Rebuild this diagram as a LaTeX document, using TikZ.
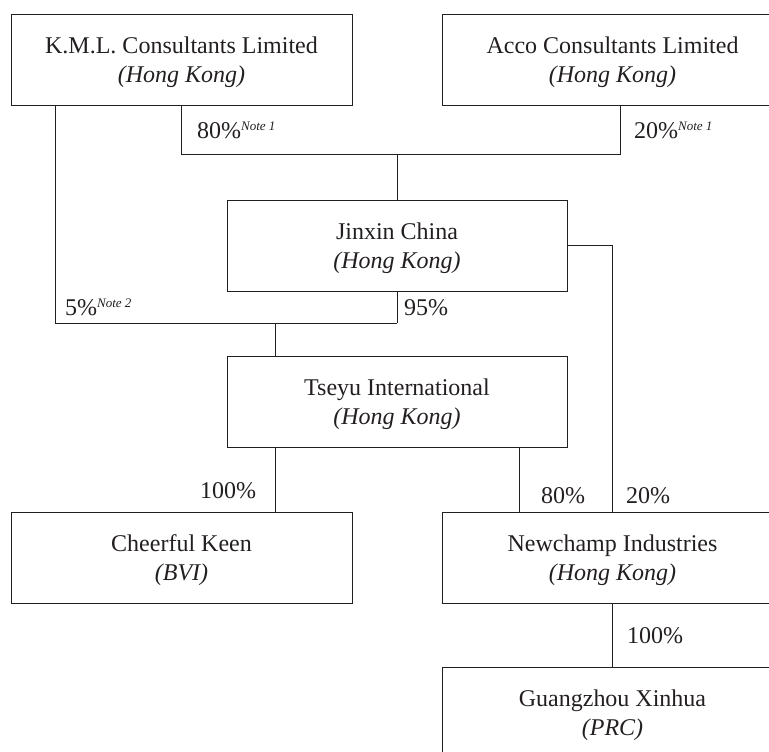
\documentclass[tikz,border=0pt]{standalone}
\usepackage{fontspec}
\setmainfont{Liberation Serif}
\definecolor{ink}{RGB}{35,31,32}
\newcommand\mynote[1]{\raisebox{8pt}{\fontsize{13}{13}\selectfont\itshape #1}}
\newcommand\topstrut{\rule{0pt}{21.5pt}}
\begin{document}
\begin{tikzpicture}[x=1pt,y=-1pt,
  box/.style={draw=ink, line width=0.9pt, minimum width=341pt, minimum height=91pt, align=center, inner sep=0pt, font=\fontsize{24}{29}\selectfont, text=ink},
  pct/.style={anchor=base west, inner sep=0pt, font=\fontsize{24}{29}\selectfont, text=ink},
  link/.style={draw=ink, line width=0.9pt}]
\useasboundingbox (0,0) rectangle (769,752);
\clip (0,0) rectangle (769,752);
\node[box] (kml) at (181.5,59.5) {\topstrut K.M.L. Consultants Limited\\\textit{(Hong Kong)}};
\node[box] (acco) at (612.5,59.5) {\topstrut Acco Consultants Limited\\\textit{(Hong Kong)}};
\node[box, minimum width=340pt] (jin) at (397,245.5) {\topstrut Jinxin China\\\textit{(Hong Kong)}};
\node[box, minimum width=340pt] (tse) at (397,401.5) {\topstrut Tseyu International\\\textit{(Hong Kong)}};
\node[box] (cheer) at (181.5,557.5) {\topstrut Cheerful Keen\\\textit{(BVI)}};
\node[box] (new) at (612.5,557.5) {\topstrut Newchamp Industries\\\textit{(Hong Kong)}};
\node[box] (gz) at (612.5,712.5) {\topstrut Guangzhou Xinhua\\\textit{(PRC)}};
\coordinate (h1) at (397,154);
\draw[link] (kml.south) |- (h1);
\draw[link] ([xshift=7.5pt]acco.south) |- (h1);
\draw[link] (h1) -- (jin.north);
\coordinate (h2) at (397,323);
\draw[link] ([xshift=-126.5pt]kml.south) |- (h2);
\draw[link] (jin.south) -- (h2);
\coordinate (t1) at ([xshift=-122pt]tse.north);
\draw[link] (t1 |- h2) -- (t1);
\coordinate (t2) at ([xshift=-122pt]tse.south);
\draw[link] (t2) -- (t2 |- cheer.north);
\coordinate (t3) at ([xshift=122pt]tse.south);
\draw[link] (t3) -- (t3 |- new.north);
\draw[link] (jin.east) -| (new.north);
\draw[link] (new.south) -- (gz.north);
\node[pct] (l80a) at (197,138) {80\%\mynote{Note 1}};
\node[pct] (l20a) at (634,138) {20\%\mynote{Note 1}};
\node[pct] (l5) at (65,315) {5\%\mynote{Note 2}};
\node[pct] (l95) at (404,315) {95\%};
\node[pct] (l100a) at (200,498) {100\%};
\node[pct] (l80b) at (541,503) {80\%};
\node[pct] (l20b) at (626,503) {20\%};
\node[pct] (l100b) at (627,643) {100\%};
\end{tikzpicture}
\end{document}
